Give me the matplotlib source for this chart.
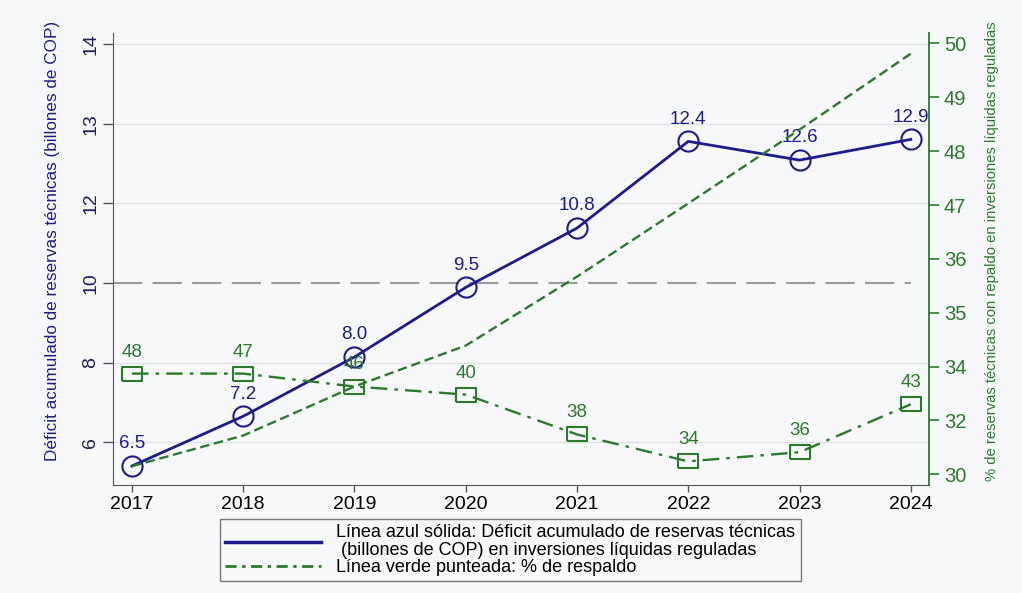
import matplotlib
matplotlib.use("Agg")
import matplotlib.pyplot as plt

plt.rcParams['font.family'] = ['Liberation Sans', 'DejaVu Sans']

years = [2017, 2018, 2019, 2020, 2021, 2022, 2023, 2024]

# blue series: printed values and positions read on the left scale
deficit_labels = ['6.5', '7.2', '8.0', '9.5', '10.8', '12.4', '12.6', '12.9']
deficit_pos = [5.40, 6.65, 8.14, 9.89, 11.38, 13.56, 13.09, 13.61]

# green squares: printed values and positions read on the right scale
respaldo_labels = ['48', '47', '46', '40', '38', '34', '36', '43']
respaldo_pos = [31.87, 31.87, 31.63, 31.48, 30.74, 30.24, 30.41, 31.30]

# green dashed line (no markers), right scale
trend_pos = [30.15, 30.72, 31.63, 32.39, 33.67, 35.03, 36.40, 37.81]

left_ticks = [6, 8, 10, 12, 14, 16]
left_ticklabels = ['6', '8', '10', '12', '13', '14']
right_ticks = [30, 31, 32, 33, 34, 35, 36, 37, 38]
right_ticklabels = ['30', '32', '34', '35', '36', '47', '48', '49', '50']

blue = '#1c1c8c'
green = '#2b7a2b'
bg = '#f7f8fa'

fig = plt.figure(figsize=(10.22, 5.93), dpi=100, facecolor=bg)
ax = fig.add_axes([0.1106, 0.182, 0.798, 0.762])
ax.set_facecolor(bg)
ax2 = ax.twinx()

ax.set_xlim(2016.83, 2024.16)
ax.set_ylim(4.92, 16.28)
ax2.set_ylim(29.80, 38.19)

# grid lines, with the 10 line drawn as a dashed reference
for t in left_ticks:
    if t == 10:
        ax.hlines(t, 2016.83, 2024.0, color='#9a9a9a', lw=1.5,
                  linestyle=(0, (14, 5)), zorder=1)
    else:
        ax.axhline(t, color='#dde2e2', lw=1.0, zorder=0)

ax.plot(years, deficit_pos, color=blue, lw=2.0, marker='o', ms=14.5,
        mfc='none', mec=blue, mew=1.5, zorder=3)
for x, y, s in zip(years, deficit_pos, deficit_labels):
    ax.annotate(s, (x, y), xytext=(0, 16), textcoords='offset points',
                ha='center', va='center', fontsize=13.5, color=blue)

rect = [(-1.45, -1), (1.45, -1), (1.45, 1), (-1.45, 1), (-1.45, -1)]
ax2.plot(years, trend_pos, color=green, lw=1.7, linestyle=(0, (4, 2)))
ax2.plot(years, respaldo_pos, color=green, lw=1.7, linestyle=(0, (7, 3, 1.5, 3)),
         marker=rect, ms=14, mfc='none', mec=green, mew=1.5)
for x, y, s in zip(years, respaldo_pos, respaldo_labels):
    ax2.annotate(s, (x, y), xytext=(0, 15.5), textcoords='offset points',
                 ha='center', va='center', fontsize=13.5, color=green)

ax.set_xticks(years)
ax.set_xticklabels([str(y) for y in years], fontsize=14)
ax.tick_params(axis='x', length=5, width=1, color='#555555', pad=3)

ax.set_yticks(left_ticks)
ax.set_yticklabels(left_ticklabels, fontsize=14, color='#1e1e5a',
                   rotation=90, va='center')
ax.tick_params(axis='y', length=7, width=1, color='#555555', pad=3)

ax2.set_yticks(right_ticks)
ax2.set_yticklabels(right_ticklabels, fontsize=14.5, color=green)
ax2.tick_params(axis='y', length=7, width=1.2, color=green, pad=4)

for a in (ax, ax2):
    a.spines['top'].set_visible(False)
ax.spines['right'].set_visible(False)
ax2.spines['left'].set_visible(False)
ax.spines['left'].set_color('#555555')
ax.spines['bottom'].set_color('#555555')
ax2.spines['bottom'].set_visible(False)
ax2.spines['right'].set_color(green)
ax2.spines['right'].set_linewidth(1.3)

ax.set_ylabel('Déficit acumulado de reservas técnicas (billones de COP)',
              fontsize=12.3, color=blue)
ax.yaxis.set_label_coords(-0.065, 0.54)
ax2.set_ylabel('% de reservas técnicas con repaldo en inversiones líquidas reguladas',
               fontsize=10.6, color=green, rotation=90)
ax2.yaxis.set_label_coords(1.0686, 0.518)

h1, = ax.plot([], [], color=blue, lw=2.5)
h2, = ax.plot([], [], color=green, lw=2.0, linestyle=(0, (4, 2, 1.2, 2)))
leg = fig.legend([h1, h2],
                 ['Línea azul sólida: Déficit acumulado de reservas técnicas\n'
                  ' (billones de COP) en inversiones líquidas reguladas',
                  'Línea verde punteada: % de respaldo'],
                 loc='upper left', bbox_to_anchor=(0.215, 1 - 519 / 593),
                 fontsize=13, frameon=True, fancybox=False,
                 handlelength=5.3, handletextpad=0.85, borderpad=0.3,
                 labelspacing=0.0, borderaxespad=0)
for t in leg.get_texts():
    t.set_linespacing(1.05)
leg.get_frame().set_edgecolor('#555555')
leg.get_frame().set_linewidth(1.0)
leg.get_frame().set_facecolor(bg)

fig.savefig('out.png', dpi=100, facecolor=bg)
